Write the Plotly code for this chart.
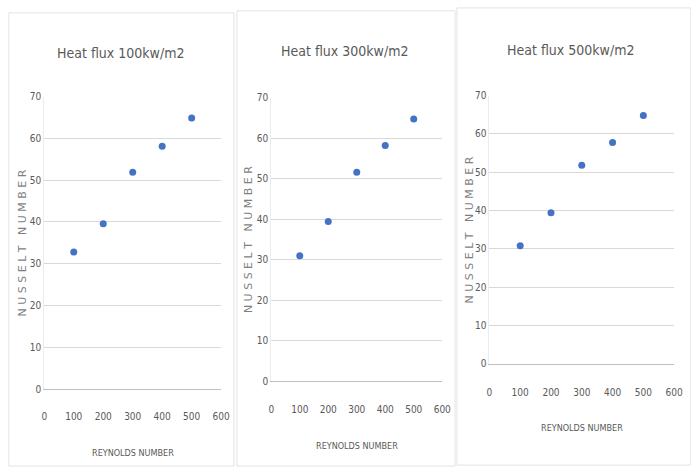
import plotly.graph_objects as go

reynolds = [100, 200, 300, 400, 500]
nu_100 = [32.8, 39.6, 51.9, 58.1, 64.9]
nu_300 = [31.0, 39.4, 51.6, 58.2, 64.7]
nu_500 = [30.8, 39.4, 51.8, 57.8, 64.8]
titles = ["Heat flux 100kw/m2", "Heat flux 300kw/m2", "Heat flux 500kw/m2"]
x_ticks = [0, 100, 200, 300, 400, 500, 600]
y_ticks = [0, 10, 20, 30, 40, 50, 60, 70]

W, H = 691, 475
FONT = "Liberation Sans Narrow, DejaVu Sans Condensed, Liberation Sans, Arial, sans-serif"
GRAY = "#595959"
BLUE = "#4472C4"

# pixel boxes of each plot area: (left, right, top, bottom)
boxes = [(42, 222, 93, 393), (273, 447, 94, 385), (495, 683, 92, 367)]
title_pos = [(120, 48), (348, 46), (578, 45)]
ytitle_x = [20, 250, 475]
xtick_y = [420, 413, 395]
xtitle_y = [459, 451, 433]

fig = go.Figure()
series = [nu_100, nu_300, nu_500]
annotations = []
shapes = []
layout = {}
for i, (vals, box) in enumerate(zip(series, boxes)):
    n = "" if i == 0 else str(i + 1)
    l, r, t, b = box
    fig.add_trace(go.Scatter(
        x=reynolds, y=vals, mode="markers",
        marker=dict(color=BLUE, size=7, symbol="circle"),
        xaxis="x" + n, yaxis="y" + n, showlegend=False))
    layout["xaxis" + n] = dict(
        domain=[l / W, r / W], range=[0, 600], anchor="y" + n,
        tickvals=x_ticks, showgrid=False, zeroline=False,
        showline=True, linecolor="#bfbfbf", linewidth=1,
        ticks="", tickfont=dict(family=FONT, size=10, color=GRAY),
        ticklabelstandoff=max(4, xtick_y[i] - b - 9))
    layout["yaxis" + n] = dict(
        domain=[1 - b / H, 1 - t / H], range=[0, 70], anchor="x" + n,
        tickvals=y_ticks, showgrid=True, gridcolor="#d9d9d9", gridwidth=1,
        zeroline=False, showline=True, linecolor="#ececec",
        ticks="", tickfont=dict(family=FONT, size=10, color=GRAY))
    annotations.append(dict(
        text=titles[i], x=title_pos[i][0] / W, y=1 - title_pos[i][1] / H,
        xref="paper", yref="paper", showarrow=False, xanchor="center", yanchor="middle",
        font=dict(family=FONT, size=14, color=GRAY)))
    annotations.append(dict(
        text="N U S S E L T   N U M B E R", x=ytitle_x[i] / W, y=1 - ((t + b) / 2) / H,
        xref="paper", yref="paper", showarrow=False, textangle=-90,
        xanchor="center", yanchor="middle",
        font=dict(family="DejaVu Sans, sans-serif", size=11, color="#7f7f7f")))
    annotations.append(dict(
        text="REYNOLDS NUMBER", x=(l + r) / 2 / W, y=1 - xtitle_y[i] / H,
        xref="paper", yref="paper", showarrow=False, xanchor="center", yanchor="middle",
        font=dict(family=FONT, size=9, color=GRAY)))

# panel borders
for (x0, x1, y0, y1) in [(6, 235, 7, 472), (238, 460, 5, 472), (462, 700, 2, 471)]:
    shapes.append(dict(type="rect", xref="paper", yref="paper",
                       x0=x0 / W, x1=x1 / W, y0=1 - y1 / H, y1=1 - y0 / H,
                       line=dict(color="#e3e3e3", width=1), fillcolor="rgba(0,0,0,0)"))

fig.update_layout(
    width=W, height=H, margin=dict(l=0, r=0, t=0, b=0),
    paper_bgcolor="white", plot_bgcolor="white",
    annotations=annotations, shapes=shapes, **layout)

fig.write_html(
    "out.html",
    config={"displayModeBar": False, "responsive": False},
    post_script=(
        "document.documentElement.style.margin='0';"
        "document.documentElement.style.overflow='hidden';"
        "document.body.style.margin='0';document.body.style.padding='0';"
        "document.body.style.overflow='hidden';"
    ),
)
